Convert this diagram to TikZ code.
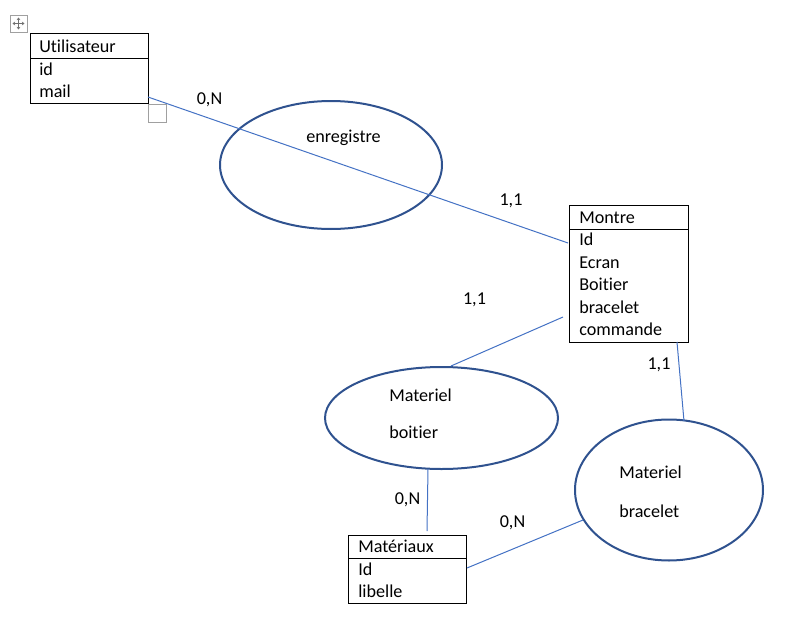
\documentclass[tikz,border=0pt]{standalone}
\usepackage{fontspec}
\setmainfont{Carlito}[Ligatures={NoCommon}]
\usetikzlibrary{shapes.geometric,fit,arrows.meta}
\definecolor{ellblue}{HTML}{2F528F}
\definecolor{lnblue}{HTML}{4472C4}
\definecolor{handle}{HTML}{A0A0A0}
\definecolor{gripdark}{HTML}{707070}
\begin{document}
\begin{tikzpicture}[x=0.75pt,y=-0.75pt,
  font=\fontsize{13.6pt}{16pt}\selectfont,
  tablebox/.style={draw=black, line width=0.75pt, inner sep=0pt, outer sep=0pt},
  sepline/.style={draw=black, line width=0.75pt},
  field/.style={anchor=base west, inner sep=0pt},
  assoc/.style={draw=ellblue, line width=1.5pt, ellipse, inner sep=0pt, outer sep=0pt},
  card/.style={anchor=base, inner sep=0pt},
  link/.style={draw=lnblue, line width=0.75pt},
  grip/.style={draw=handle, line width=0.75pt},
  griparrow/.style={draw=gripdark, line width=0.6pt, -{Stealth[length=2pt,width=2.8pt]}}
]
\useasboundingbox (0,0) rectangle (808,625);

% table move handle
\node[grip, fit={(10,15) (27,32)}, inner sep=0pt] (handlebox) {};
\draw[griparrow] (18.5,23.5) -- (12.5,23.5);
\draw[griparrow] (18.5,23.5) -- (24.5,23.5);
\draw[griparrow] (18.5,23.5) -- (18.5,17.5);
\draw[griparrow] (18.5,23.5) -- (18.5,29.5);

% resize handle
\node[grip, fit={(148,104) (166,122)}, inner sep=0pt] (resizebox) {};

% entity: Utilisateur
\node[tablebox, fit={(30,33) (148,103)}] (util) {};
\draw[sepline] (30,58) -- (148,58);
\node[field] (utilT) at (39,52) {Utilisateur};
\node[field] (utilA) at (39,75) {id};
\node[field] (utilB) at (39,97) {mail};

% entity: Montre
\node[tablebox, fit={(569,205) (688,342)}] (montre) {};
\draw[sepline] (569,229) -- (688,229);
\node[field] (montreT) at (579,223) {Montre};
\node[field] (montreA) at (579,245) {Id};
\node[field] (montreB) at (579,268) {Ecran};
\node[field] (montreC) at (579,290) {Boitier};
\node[field] (montreD) at (579,313) {bracelet};
\node[field] (montreE) at (579,335) {commande};

% entity: Matériaux
\node[tablebox, fit={(348,535) (466,603)}] (mat) {};
\draw[sepline] (348,558) -- (466,558);
\node[field] (matT) at (358,552) {Matériaux};
\node[field] (matA) at (358,575) {Id};
\node[field] (matB) at (358,597) {libelle};

% associations
\node[assoc, minimum width=166.5pt, minimum height=96pt] (enreg) at (331,165) {};
\node[field] (enregT) at (306,142) {enregistre};

\node[assoc, minimum width=174.75pt, minimum height=76.5pt] (boit) at (441.5,418) {};
\node[field] (boitA) at (389,401) {Materiel};
\node[field] (boitB) at (389,438) {boitier};

\node[assoc, minimum width=141pt, minimum height=105.75pt] (brac) at (669,490) {};
\node[field] (bracA) at (619,478) {Materiel};
\node[field] (bracB) at (619,517) {bracelet};

% connector end points
\coordinate (pUtil) at (148,97);
\coordinate (pMontreA) at (568,243);
\coordinate (pMontreB) at (563,317);
\coordinate (pBoitTop) at (451,366);
\coordinate (pBoitBot) at (428,469);
\coordinate (pMatTop) at (427,531);
\coordinate (pMontreC) at (677,342);
\coordinate (pBracTop) at (684,421);
\coordinate (pMatRight) at (467,568);
\coordinate (pBracLeft) at (583,520);

% connectors
\draw[link] (pUtil) -- (pMontreA);
\draw[link] (pMontreB) -- (pBoitTop);
\draw[link] (pBoitBot) -- (pMatTop);
\draw[link] (pMontreC) -- (pBracTop);
\draw[link] (pMatRight) -- (pBracLeft);

% cardinalities
\node[card] (c1) at (209.5,104) {0,N};
\node[card] (c2) at (511,205) {1,1};
\node[card] (c3) at (474.5,304) {1,1};
\node[card] (c4) at (407.5,504) {0,N};
\node[card] (c5) at (659,369) {1,1};
\node[card] (c6) at (512.5,527) {0,N};
\end{tikzpicture}
\end{document}
